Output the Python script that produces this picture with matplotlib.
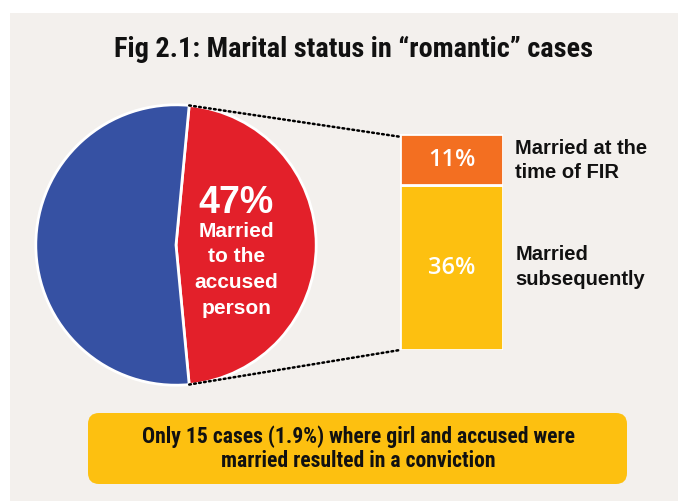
import matplotlib
matplotlib.use("Agg")
import matplotlib.pyplot as plt
from matplotlib.patches import Rectangle, FancyBboxPatch, ConnectionPatch
import numpy as np

# data
pie_labels = ["Married to the accused person", "Other"]
pie_values = [47, 53]
pie_colors = ["#e3202a", "#3651a3"]

bar_labels = ["Married\nsubsequently", "Married at the\ntime of FIR"]
bar_values = [36, 11]
bar_colors = ["#fdc010", "#f36f21"]

title = "Fig 2.1: Marital status in \u201cromantic\u201d cases"
note = "Only 15 cases (1.9%) where girl and accused were\nmarried resulted in a conviction"

BG = "#f3f0ed"
W, H = 678, 502
COND = ["Roboto Condensed", "DejaVu Sans"]
SANS = ["Liberation Sans", "DejaVu Sans"]
MED = ["Open Sans", "DejaVu Sans"]

fig = plt.figure(figsize=(W / 100, H / 100), dpi=100)
fig.patch.set_facecolor("white")

# background layer in pixel units (y up)
bg = fig.add_axes([0, 0, 1, 1])
bg.set_xlim(0, W)
bg.set_ylim(0, H)
bg.axis("off")
bg.add_patch(Rectangle((10, 0), W - 10, H - 14, facecolor=BG, edgecolor="none"))
bg.add_patch(FancyBboxPatch((88, H - 485), 539, 71,
                            boxstyle="round,pad=0,rounding_size=11",
                            facecolor="#fdc010", edgecolor="none"))
bg.text(358, H - 449, note, ha="center", va="center", fontsize=15.6,
        fontweight="bold", family=COND, color="#111111", linespacing=1.1)
bg.text(354, H - 49, title, ha="center", va="center", fontsize=20.3,
        fontweight="bold", family=COND, color="#111111")

# pie
cx, cy, r = 176, H - 246, 143
pax = fig.add_axes([(cx - r) / W, (cy - r) / H, 2 * r / W, 2 * r / H])
share = pie_values[0] / sum(pie_values) * 360
start = -share / 2
pax.pie(pie_values, colors=pie_colors, startangle=start, counterclock=True,
        wedgeprops=dict(edgecolor="white", linewidth=2))
pax.set_xlim(-1.02, 1.02)
pax.set_ylim(-1.02, 1.02)
pax.set_aspect("equal")
pax.axis("off")

pax.text(0.43, 0.31, f"{pie_values[0]}%", ha="center", va="center",
         color="white", fontsize=27, fontweight="bold", family=SANS)
pax.text(0.43, -0.17, "Married\nto the\naccused\nperson", ha="center",
         va="center", color="white", fontsize=15, fontweight="bold",
         family=SANS, linespacing=1.45)

# stacked bar
bx0, bx1, by0, by1 = 400, 503, H - 351, H - 135
bax = fig.add_axes([bx0 / W, by0 / H, (bx1 - bx0) / W, (by1 - by0) / H])
bottom = 0
for v, c in zip(bar_values, bar_colors):
    bax.bar(0, v, bottom=bottom, width=1, color=c, edgecolor="white",
            linewidth=2)
    bax.text(0, bottom + v / 2, f"{v}%", ha="center", va="center",
             color="white", fontsize=17, fontweight=600, family=MED)
    bottom += v
bax.set_xlim(-0.5, 0.5)
bax.set_ylim(0, sum(bar_values))
bax.axis("off")

# labels to the right of the bar
bottom = 0
label_offsets = [0.3, 0.0]
for v, lab, off in zip(bar_values, bar_labels, label_offsets):
    bax.text(0.62, bottom + v / 2 + off, lab, ha="left", va="center",
             fontsize=14.5, fontweight="bold", family=SANS, color="#111111",
             linespacing=1.35)
    bottom += v

# dotted connectors
a_top = np.deg2rad(start + share)
a_bot = np.deg2rad(start)
total = sum(bar_values)
for ang, yb in [(a_top, total - 0.6), (a_bot, 0)]:
    con = ConnectionPatch(xyA=(np.cos(ang), np.sin(ang)), coordsA=pax.transData,
                          xyB=(-0.5, yb), coordsB=bax.transData,
                          color="black", linewidth=1.8, linestyle=(0, (0.7, 1.3)))
    fig.add_artist(con)

fig.savefig("out.png", dpi=100, facecolor=fig.get_facecolor())
